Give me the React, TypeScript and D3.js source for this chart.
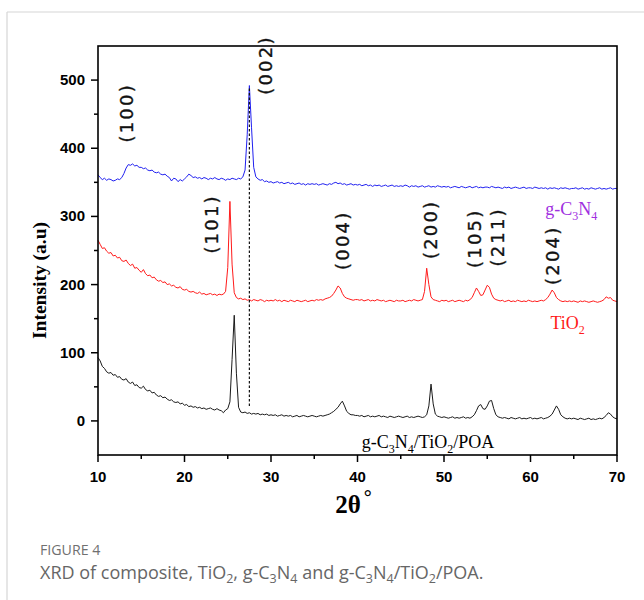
import React from 'react';
import * as d3 from 'd3';

// 2θ sampling grid: start and step (degrees)
const X_START = 10;
const X_STEP = 0.25;

// g-C3N4 intensities (10° → 70°, step 0.25°)
const G_C3N4 = [
  361, 357, 354, 356, 353, 355, 354, 352, 353, 355, 354, 357, 363, 371, 376, 375, 377, 374, 375, 372,
  372, 370, 371, 368, 367, 368, 365, 364, 365, 362, 361, 362, 359, 357, 352, 356, 355, 351, 354, 352,
  355, 358, 362, 360, 357, 358, 356, 357, 355, 357, 356, 354, 356, 355, 357, 355, 354, 356, 355, 353,
  355, 354, 356, 355, 354, 356, 355, 358, 368, 420, 492, 430, 372, 358, 355, 353, 354, 351, 352, 350,
  351, 349, 350, 351, 349, 350, 348, 349, 350, 348, 349, 347, 348, 349, 347, 348, 346, 348, 347, 348,
  347, 348, 346, 347, 348, 347, 346, 348, 347, 349, 350, 348, 349, 347, 348, 346, 347, 348, 346, 347,
  346, 347, 345, 346, 347, 345, 346, 344, 346, 345, 346, 344, 345, 346, 344, 345, 346, 344, 345, 344,
  345, 344, 346, 345, 343, 345, 344, 345, 343, 344, 345, 343, 344, 345, 343, 344, 343, 345, 344, 343,
  344, 343, 344, 342, 343, 344, 343, 342, 344, 343, 342, 343, 344, 342, 343, 344, 342, 343, 342, 343,
  343, 342, 344, 343, 342, 343, 342, 341, 343, 342, 343, 341, 342, 343, 342, 341, 342, 343, 341, 342,
  342, 341, 343, 342, 341, 342, 341, 342, 340, 342, 341, 342, 341, 340, 342, 341, 342, 341, 340, 341,
  341, 342, 340, 341, 342, 340, 341, 340, 342, 341, 340, 341, 342, 340, 341, 340, 341, 342, 340, 341,
  341,
];

// TiO2 intensities
const TIO2 = [
  265, 259, 253, 254, 249, 246, 247, 242, 243, 239, 240, 235, 234, 236, 231, 228, 230, 224, 225, 221,
  218, 222, 216, 213, 214, 210, 211, 207, 205, 206, 203, 204, 200, 201, 198, 199, 196, 195, 197, 193,
  192, 193, 190, 189, 190, 188, 187, 189, 186, 187, 185, 186, 187, 185, 186, 184, 186, 185, 186, 190,
  225, 322, 230, 188, 181, 179, 180, 178, 179, 177, 178, 176, 178, 177, 176, 178, 177, 175, 177, 176,
  177, 176, 178, 176, 177, 175, 177, 176, 175, 177, 176, 175, 177, 176, 175, 176, 177, 175, 176, 177,
  176, 178, 177, 178, 177, 179, 180, 181, 183, 187, 192, 198, 195, 187, 182, 180, 179, 178, 177, 178,
  178, 177, 178, 176, 177, 178, 176, 177, 176, 178, 177, 176, 177, 175, 176, 177, 176, 175, 177, 176,
  176, 177, 175, 176, 177, 176, 178, 177, 176, 177, 178, 190, 224, 200, 182, 178, 177, 176, 175, 177,
  176, 177, 175, 176, 177, 175, 176, 177, 176, 175, 177, 176, 178, 181, 188, 195, 190, 184, 185, 192,
  199, 196, 186, 180, 178, 177, 176, 177, 175, 176, 177, 175, 176, 175, 177, 176, 175, 176, 175, 177,
  176, 175, 176, 175, 176, 177, 176, 178, 181, 186, 192, 188, 181, 178, 176, 175, 176, 175, 176, 175,
  176, 175, 174, 176, 175, 176, 175, 174, 175, 176, 175, 174, 175, 176, 178, 182, 180, 181, 177, 176,
  175,
];

// g-C3N4/TiO2/POA intensities
const COMPOSITE = [
  93, 88, 80, 77, 72, 70, 71, 67, 68, 64, 65, 61, 60, 62, 57, 55, 57, 52, 53, 49,
  48, 51, 46, 44, 45, 41, 42, 38, 36, 37, 34, 35, 32, 30, 31, 28, 27, 28, 25, 26,
  23, 24, 21, 22, 20, 21, 19, 20, 18, 19, 17, 18, 19, 17, 16, 18, 16, 15, 12, 16,
  18, 28, 90, 155, 70, 20, 13, 12, 13, 11, 12, 10, 11, 10, 11, 9, 10, 9, 10, 8,
  9, 8, 9, 7, 8, 9, 7, 8, 7, 8, 6, 7, 8, 6, 7, 8, 7, 6, 7, 8,
  7, 6, 7, 8, 7, 8, 9, 10, 12, 14, 17, 20, 25, 29, 22, 14, 11, 9, 9, 8,
  8, 7, 8, 6, 7, 8, 6, 7, 6, 7, 8, 6, 7, 6, 5, 7, 6, 5, 6, 7,
  6, 5, 6, 7, 5, 6, 5, 6, 7, 6, 5, 6, 9, 22, 54, 25, 10, 7, 6, 5,
  6, 5, 4, 5, 6, 4, 5, 4, 5, 6, 4, 5, 4, 6, 9, 15, 22, 24, 18, 17,
  22, 29, 30, 18, 9, 6, 5, 4, 5, 4, 3, 5, 4, 3, 4, 5, 3, 4, 3, 4,
  5, 3, 4, 3, 4, 5, 3, 4, 5, 7, 10, 16, 22, 17, 9, 6, 4, 3, 4, 3,
  4, 3, 2, 4, 3, 2, 3, 4, 2, 3, 2, 3, 4, 3, 5, 8, 12, 10, 6, 4,
  3,
];

const X_TICKS = [10, 20, 30, 40, 50, 60, 70];
const X_MINOR = [15, 25, 35, 45, 55, 65];
const Y_TICKS = [0, 100, 200, 300, 400, 500];
const Y_MINOR = [50, 150, 250, 350, 450];

// reference line through the (002) reflection
const REF_LINE_X = 27.5;
const REF_LINE_Y = [22, 490];

// Miller-index annotations (2θ, intensity)
const PEAK_TEXT = ['(100)', '(002)', '(101)', '(004)', '(200)', '(105)', '(211)', '(204)'];
const PEAK_X = [13.35, 29.4, 23.2, 38.3, 48.5, 53.6, 56.2, 62.6];
const PEAK_Y = [452, 522, 289, 265, 281, 268, 270, 243];

const W = 644;
const H = 600;
const M = { left: 98, right: 617, top: 46, bottom: 455 };

export default function App() {
  const x = d3.scaleLinear().domain([10, 70]).range([M.left, M.right]);
  const y = d3.scaleLinear().domain([-50, 550]).range([M.bottom, M.top]);
  const line = d3
    .line<number>()
    .x((_, i) => x(X_START + i * X_STEP))
    .y((d) => y(d));

  const series = [
    { data: G_C3N4, color: '#2020f0' },
    { data: TIO2, color: '#ff1a1a' },
    { data: COMPOSITE, color: '#1a1a1a' },
  ];

  const serif = '"Liberation Serif", "Times New Roman", serif';
  const sans = '"Liberation Sans", Arial, sans-serif';
  const capFont = '"Open Sans", "Noto Sans", sans-serif';

  return (
    <svg
      width={W}
      height={H}
      style={{ position: 'absolute', left: 0, top: 0, background: '#fff' }}
    >
      {/* card frame */}
      <line x1={7} y1={12} x2={W} y2={12} stroke="#d6d6d6" strokeWidth={1.2} />
      <line x1={7} y1={12} x2={7} y2={H} stroke="#d6d6d6" strokeWidth={1.2} />

      {/* series */}
      {series.map((s, i) => (
        <path key={i} d={line(s.data) || ''} fill="none" stroke={s.color} strokeWidth={1} strokeLinejoin="round" />
      ))}

      {/* dashed reference */}
      <line
        x1={x(REF_LINE_X)}
        x2={x(REF_LINE_X)}
        y1={y(REF_LINE_Y[0])}
        y2={y(REF_LINE_Y[1])}
        stroke="#111"
        strokeWidth={1.2}
        strokeDasharray="2.5,2"
      />

      {/* plot box */}
      <rect
        x={M.left}
        y={M.top}
        width={M.right - M.left}
        height={M.bottom - M.top}
        fill="none"
        stroke="#000"
        strokeWidth={1.6}
      />

      {/* x ticks */}
      {X_TICKS.map((t) => (
        <g key={'xt' + t}>
          <line x1={x(t)} x2={x(t)} y1={M.bottom} y2={M.bottom + 7} stroke="#000" strokeWidth={1.5} />
          <text x={x(t)} y={M.bottom + 27} textAnchor="middle" fontFamily={sans} fontWeight="bold" fontSize={15}>
            {t}
          </text>
        </g>
      ))}
      {X_MINOR.map((t) => (
        <line key={'xm' + t} x1={x(t)} x2={x(t)} y1={M.bottom} y2={M.bottom + 4} stroke="#000" strokeWidth={1.5} />
      ))}

      {/* y ticks */}
      {Y_TICKS.map((t) => (
        <g key={'yt' + t}>
          <line x1={M.left - 7} x2={M.left} y1={y(t)} y2={y(t)} stroke="#000" strokeWidth={1.5} />
          <text x={M.left - 13} y={y(t) + 5} textAnchor="end" fontFamily={sans} fontWeight="bold" fontSize={15}>
            {t}
          </text>
        </g>
      ))}
      {Y_MINOR.map((t) => (
        <line key={'ym' + t} x1={M.left - 4} x2={M.left} y1={y(t)} y2={y(t)} stroke="#000" strokeWidth={1.5} />
      ))}

      {/* axis titles */}
      <text
        transform={`translate(46,${(M.top + M.bottom) / 2 + 30}) rotate(-90)`}
        textAnchor="middle"
        fontFamily={serif}
        fontWeight="bold"
        fontSize={19.5}
      >
        Intensity (a.u)
      </text>
      <text x={(M.left + M.right) / 2 - 4} y={513} textAnchor="middle" fontFamily={serif} fontWeight="bold" fontSize={25}>
        2θ<tspan dx={3} dy={-9} fontSize={20}>°</tspan>
      </text>

      {/* peak annotations */}
      {PEAK_TEXT.map((t, i) => (
        <text
          key={'pk' + i}
          transform={`translate(${x(PEAK_X[i]) + 6},${y(PEAK_Y[i])}) rotate(-90)`}
          textAnchor="middle"
          fontFamily='"DejaVu Sans", sans-serif'
          fontSize={18}
          letterSpacing={2.2}
          fill="#111"
          stroke="#111"
          strokeWidth={0.35}
        >
          {t}
        </text>
      ))}

      {/* series labels */}
      <text x={x(61.7)} y={y(302)} fontFamily={serif} fontSize={18} fill="#a030e0">
        g-C<tspan dy={5} fontSize={12}>3</tspan>
        <tspan dy={-5}>N</tspan>
        <tspan dy={5} fontSize={12}>4</tspan>
      </text>
      <text x={x(62.3)} y={y(135)} fontFamily={serif} fontSize={18} fill="#ff1a1a">
        TiO<tspan dy={5} fontSize={12}>2</tspan>
      </text>
      <text x={x(40.5)} y={y(-40)} fontFamily={serif} fontSize={18} fill="#000">
        g-C<tspan dy={5} fontSize={12}>3</tspan>
        <tspan dy={-5}>N</tspan>
        <tspan dy={5} fontSize={12}>4</tspan>
        <tspan dy={-5}>/TiO</tspan>
        <tspan dy={5} fontSize={12}>2</tspan>
        <tspan dy={-5}>/POA</tspan>
      </text>

      {/* caption */}
      <text x={40} y={555} fontFamily={capFont} fontSize={14.2} fill="#707070">
        FIGURE 4
      </text>
      <text x={40} y={579} fontFamily={capFont} fontSize={18} fill="#666">
        XRD of composite, TiO<tspan dy={4} fontSize={12.5}>2</tspan>
        <tspan dy={-4}>, g-C</tspan>
        <tspan dy={4} fontSize={12.5}>3</tspan>
        <tspan dy={-4}>N</tspan>
        <tspan dy={4} fontSize={12.5}>4</tspan>
        <tspan dy={-4}> and g-C</tspan>
        <tspan dy={4} fontSize={12.5}>3</tspan>
        <tspan dy={-4}>N</tspan>
        <tspan dy={4} fontSize={12.5}>4</tspan>
        <tspan dy={-4}>/TiO</tspan>
        <tspan dy={4} fontSize={12.5}>2</tspan>
        <tspan dy={-4}>/POA.</tspan>
      </text>
    </svg>
  );
}
